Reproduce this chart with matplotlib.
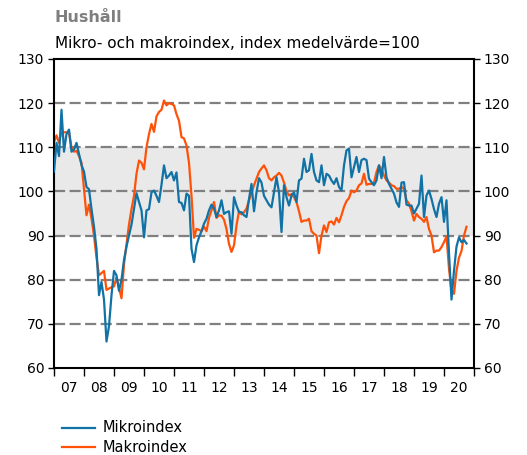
import numpy as np
import matplotlib.pyplot as plt
from matplotlib.lines import Line2D

# monthly values, Jan 2007 .. Oct 2020
mikro = [
    104.5, 111, 108, 118.5, 109, 113, 114, 109, 109.5, 111, 108.5, 106,      # 2007
    104.5, 101, 100.5, 96, 92, 87, 76.5, 79.5, 75.5, 66, 69.5, 76.5,         # 2008
    82, 81, 77.5, 80, 84.5, 87.5, 90, 92.5, 96, 99.6, 97.6, 95.7,            # 2009
    89.6, 95.7, 96, 99.8, 100.2, 99, 97.6, 101.5, 105.9, 103, 103.6, 104.4,  # 2010
    102.5, 104.3, 97.6, 97.4, 95.7, 99.5, 99, 87, 84, 87.8, 89.6, 91,        # 2011
    92.7, 93.8, 95.7, 97, 96.1, 94.2, 95.7, 98, 94.9, 95.3, 95.5, 90.4,      # 2012
    98.7, 96.8, 95.3, 95.3, 94.6, 94.2, 98.3, 101.7, 95.5, 99.8, 103, 102,   # 2013
    99, 98, 97, 96.4, 99.8, 103.2, 99.8, 90.8, 101.4, 98.7, 96.8, 99.1,      # 2014
    99.8, 97.6, 102.5, 102.9, 107.4, 104.4, 104.8, 108.5, 104.4, 102.5, 102.1, 105.9,  # 2015
    101.4, 104, 103.6, 102.5, 101.7, 103, 101, 100.2, 105.9, 109.3, 109.7, 103.2,     # 2016
    105.5, 107.8, 104.4, 107.1, 107.4, 107.1, 102.9, 102.1, 101.4, 102.5, 105.9, 103,  # 2017
    107.8, 103.2, 101.7, 100.6, 99.5, 97.5, 96.5, 102, 102.1, 97, 96.8, 96.8,  # 2018
    95, 96.1, 97.2, 103.6, 94.2, 99.1, 100.2, 98.3, 96, 94.2, 97.2, 98.7,      # 2019
    93.1, 98, 86, 75.5, 82, 87.5, 89.6, 88.5, 89, 88.2,                        # 2020
]

makro = [
    111.2, 112.7, 111, 113.4, 113.4, 113.4, 113.2, 110, 109, 109.2, 108, 106.5,  # 2007
    100.5, 94.6, 97, 93.8, 90, 85, 81, 81.5, 82, 77.7, 78, 78.3,                # 2008
    78.5, 80.5, 78.2, 75.8, 83.5, 88, 92.5, 96, 99, 104, 107, 106.5,            # 2009
    105, 110, 113, 115.3, 113.5, 117, 118, 118.5, 120.6, 119.5, 120, 119.8,     # 2010
    119.5, 117.5, 116, 112.3, 112, 110.4, 106.5, 99, 89.5, 91.5, 91.3, 91,      # 2011
    92, 91, 94, 95.7, 97.6, 94, 94.6, 94.5, 93.6, 91.5, 88.1, 86.3,             # 2012
    87.8, 92.3, 95.5, 94.8, 95.3, 96.1, 98, 99.6, 101.4, 102.9, 104.4, 105.2,   # 2013
    105.9, 104.8, 103, 102.5, 103.2, 103.6, 104.2, 103.6, 102, 100, 99.1, 99.4, # 2014
    98.7, 97.6, 95.5, 93.1, 93.4, 93.4, 93.8, 91, 90.4, 90, 86, 90,             # 2015
    92.3, 90.8, 93, 93.2, 92.5, 94, 93, 94.6, 96.5, 97.8, 98.5, 100.2,          # 2016
    99.8, 100.2, 101.4, 101.8, 104, 101.5, 101.7, 101.7, 102, 104.4, 105.9, 105,  # 2017
    103.6, 102.5, 102, 101.4, 101.2, 100.6, 100.6, 101, 100.6, 98, 97.2, 95.5,  # 2018
    93.4, 94.9, 94.2, 93.8, 93.1, 94.2, 91.5, 90, 86.2, 86.6, 86.6, 87.4,       # 2019
    88.5, 89.8, 82.5, 77.5, 76.8, 82, 85, 86.5, 90, 92,                         # 2020
]

series_names = ["Mikroindex", "Makroindex"]
years = list(range(2007, 2021))
year_labels = ["%02d" % (y % 100) for y in years]

t = 2007 + np.arange(len(mikro)) / 12.0

blue = "#1172a6"
orange = "#ff5208"
W, H = 527, 455

fig = plt.figure(figsize=(W / 100, H / 100), dpi=100)
ax = fig.add_axes([54 / W, 1 - 368 / H, 420 / W, 309 / H])

ax.axhspan(90, 110, color="#e9e9e9", zorder=0, lw=0)
for v in range(70, 130, 10):
    ax.axhline(v, color="#808080", lw=1.6, dashes=(5, 2), zorder=1)

ax.plot(t, mikro, color=blue, lw=1.6, zorder=3)
ax.plot(t, makro, color=orange, lw=1.6, zorder=2)

ax.set_xlim(2007, 2021)
ax.set_ylim(60, 130)
ax.set_yticks(range(60, 131, 10))
ax.tick_params(axis="y", which="both", left=True, right=True,
               labelleft=True, labelright=True, direction="out",
               length=4, width=1, labelsize=10, pad=3)

ax.set_xticks(range(2007, 2022))
ax.set_xticklabels([])
ax.set_xticks([y + 0.5 for y in years], minor=True)
ax.set_xticklabels(year_labels, minor=True)
ax.tick_params(axis="x", which="major", direction="out", length=6, width=1)
ax.tick_params(axis="x", which="minor", length=0, labelsize=10, pad=9)

for s in ax.spines.values():
    s.set_linewidth(1.5)

fig.text(55 / W, 1 - 17 / H, "Hushåll", fontsize=11.5, fontweight="heavy",
         color="#7f7f7f", va="center", ha="left")
fig.text(55 / W, 1 - 44 / H, "Mikro- och makroindex, index medelvärde=100",
         fontsize=11, color="black", va="center", ha="left")

# legend, drawn by hand below the plot
for name, col, yy in zip(series_names, [blue, orange], [428, 447]):
    fig.add_artist(Line2D([62 / W, 95 / W], [1 - yy / H, 1 - yy / H],
                          color=col, lw=1.6, transform=fig.transFigure))
    fig.text(103 / W, 1 - yy / H, name, fontsize=10.5, va="center", ha="left")

fig.savefig("out.png", dpi=100)
